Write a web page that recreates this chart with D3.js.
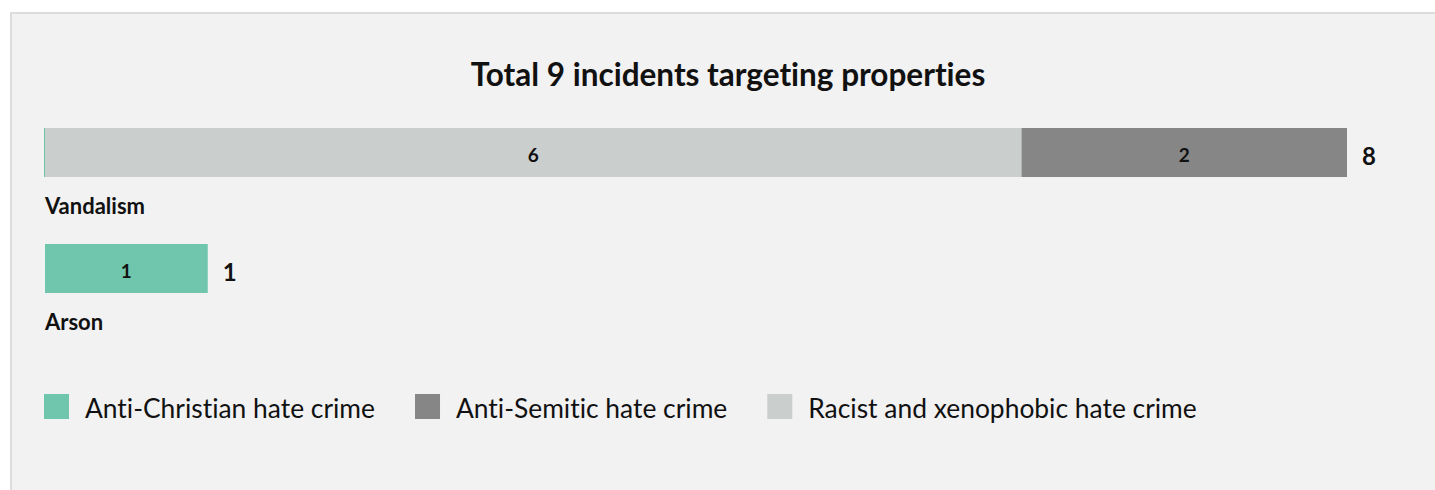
<!DOCTYPE html>
<html>
<head>
<meta charset="utf-8">
<script src="https://cdn.jsdelivr.net/npm/d3@7"></script>
<style>
  body { margin: 0; background: #ffffff; }
  text { font-family: Lato, "Noto Sans", sans-serif; font-variant-ligatures: none; }
</style>
</head>
<body>
<div id="chart"></div>
<script>
// Data
var categories = ["Vandalism", "Arson"];
var seriesNames = ["Anti-Christian hate crime", "Anti-Semitic hate crime", "Racist and xenophobic hate crime"];
var antiChristian = [0, 1];
var antiSemitic = [2, 0];
var racist = [6, 0];
var titleText = "Total 9 incidents targeting properties";

// order the segments are stacked in (left to right)
var stackOrder = ["antiChristian", "racist", "antiSemitic"];
var colors = { antiChristian: "#70c5ad", antiSemitic: "#868686", racist: "#cacecd" };
var legendKeys = ["antiChristian", "antiSemitic", "racist"];

var W = 1435, H = 490;

var svg = d3.select("#chart")
  .append("svg")
    .attr("width", W)
    .attr("height", H);

// panel background with border (runs past the right/bottom edge)
svg.append("rect")
  .attr("x", 11)
  .attr("y", 13)
  .attr("width", W + 20)
  .attr("height", H + 20)
  .style("fill", "#f2f2f2")
  .style("stroke", "#dcdcdc")
  .style("stroke-width", 2);

// build rows
var rows = categories.map(function (c, i) {
  var r = { category: c, antiChristian: antiChristian[i], antiSemitic: antiSemitic[i], racist: racist[i] };
  r.total = r.antiChristian + r.antiSemitic + r.racist;
  return r;
});

var stacked = d3.stack().keys(stackOrder)(rows);

// scales
var x = d3.scaleLinear()
  .domain([0, 8])
  .range([45, 1347]);

var y = d3.scaleBand()
  .domain(categories)
  .range([128, 360]);

var barH = 49;

// title
svg.append("text")
  .attr("x", 728)
  .attr("y", 86)
  .attr("text-anchor", "middle")
  .style("font-size", "31.5px")
  .style("font-weight", "bold")
  .style("fill", "#111")
  .text(titleText);

// bars
var layer = svg.selectAll(".layer")
  .data(stacked)
  .enter()
  .append("g")
    .attr("class", "layer")
    .style("fill", d => colors[d.key]);

layer.selectAll("rect")
  .data(d => d.map(function (s) { return { key: d.key, x0: s[0], x1: s[1], cat: s.data.category }; }))
  .enter()
  .append("rect")
    .attr("x", d => x(d.x0) - (d.x1 === d.x0 ? 1 : 0))
    .attr("y", d => y(d.cat))
    // a zero first segment still shows as a thin sliver on Vandalism
    .attr("width", d => d.x1 === d.x0 ? (d.key === stackOrder[0] && d.cat === "Vandalism" ? 1 : 0) : x(d.x1) - x(d.x0))
    .attr("height", barH);

// value labels in segments
layer.selectAll(".val")
  .data(d => d.filter(s => s[1] - s[0] > 0).map(function (s) { return { x0: s[0], x1: s[1], cat: s.data.category }; }))
  .enter()
  .append("text")
    .attr("class", "val")
    .attr("x", d => x((d.x0 + d.x1) / 2))
    .attr("y", d => y(d.cat) + barH / 2 + 9)
    .attr("text-anchor", "middle")
    .style("font-size", "19px")
    .style("font-weight", "bold")
    .style("fill", "#111")
    .text(d => d.x1 - d.x0);

// totals
svg.selectAll(".total")
  .data(rows)
  .enter()
  .append("text")
    .attr("class", "total")
    .attr("x", d => x(d.total) + 15)
    .attr("y", d => y(d.category) + barH / 2 + 12)
    .style("font-size", "24px")
    .style("font-weight", "bold")
    .style("fill", "#111")
    .text(d => d.total);

// category labels
svg.selectAll(".cat")
  .data(categories)
  .enter()
  .append("text")
    .attr("class", "cat")
    .attr("x", x(0))
    .attr("y", d => y(d) + barH + 37)
    .style("font-size", "22px")
    .style("font-weight", "bold")
    .style("fill", "#111")
    .text(d => d);

// legend
var legend = svg.append("g")
  .attr("transform", "translate(44,394)");

var lx = 0;
legendKeys.forEach(function (k, i) {
  var g = legend.append("g").attr("transform", "translate(" + lx + ",0)");
  g.append("rect")
    .attr("width", 25)
    .attr("height", 25)
    .style("fill", colors[k]);
  var t = g.append("text")
    .attr("x", 41)
    .attr("y", 24)
    .style("font-size", "26.4px")
    .style("fill", "#111")
    .text(seriesNames[i]);
  lx += 41 + t.node().getComputedTextLength() + 40;
});
</script>
</body>
</html>
